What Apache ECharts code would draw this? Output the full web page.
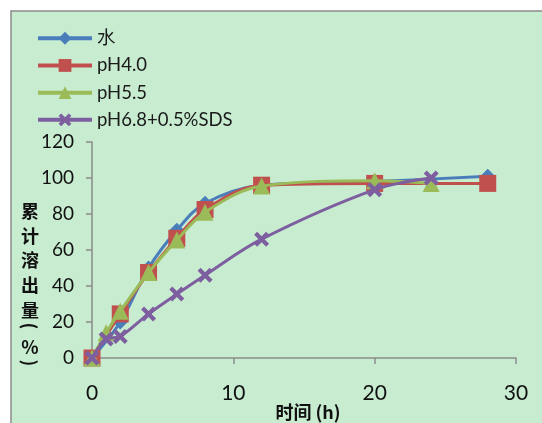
<!DOCTYPE html>
<html>
<head>
<meta charset="utf-8">
<script src="https://cdn.jsdelivr.net/npm/echarts@6/dist/echarts.min.js"></script>
<style>
html,body{margin:0;padding:0;background:#fff;}
#c{width:542px;height:423px;}
</style>
</head>
<body>
<div id="c"></div>
<script>
// Data
const seriesNames = ['水', 'pH4.0', 'pH5.5', 'pH6.8+0.5%SDS'];
const timeWater = [0, 2, 4, 6, 8, 12, 20, 28];
const water     = [0, 20, 50, 71, 86, 96, 98, 101];
const timePH40  = [0, 2, 4, 6, 8, 12, 20, 28];
const pH40      = [0, 24.5, 47.5, 66.5, 82.5, 96, 97, 97];
const timePH55  = [0, 1, 2, 4, 6, 8, 12, 20, 24];
const pH55      = [0, 14, 26, 47.5, 65.5, 81, 95.5, 98.5, 97];
const timePH68  = [0, 1, 2, 4, 6, 8, 12, 20, 24];
const pH68      = [0, 10.5, 12, 24.5, 35.5, 46, 66, 93.5, 100];
const xTicks = [0, 10, 20, 30];
const yTicks = [0, 20, 40, 60, 80, 100, 120];
const yTitleMain = ['累', '计', '溶', '出', '量'];
const xTitle = '时间 (h)';

function pairs(t, v) { return t.map((x, i) => [x, v[i]]); }

const colors = ['#4a7ebb', '#c0504d', '#9bbb59', '#7d5fa0'];
const xPath = 'path://M2,0 L5,3 L8,0 L10,2 L7,5 L10,8 L8,10 L5,7 L2,10 L0,8 L3,5 L0,2 Z';
const symbols = ['diamond', 'rect', 'triangle', xPath];
const symSizes = [15, 17, 17, 15];
const dataSets = [pairs(timeWater, water), pairs(timePH40, pH40), pairs(timePH55, pH55), pairs(timePH68, pH68)];

const chart = echarts.init(document.getElementById('c'), null, {renderer: 'canvas'});
const font = 'Lato, "Noto Sans", "Noto Sans CJK SC", sans-serif';
const cjk = '"Noto Sans CJK SC", sans-serif';
const titleStyle = {fontSize: 18, fontWeight: 'bold', fill: '#111', fontFamily: cjk, align: 'center', verticalAlign: 'middle'};
chart.setOption({
  animation: false,
  color: colors,
  textStyle: {fontFamily: font},
  graphic: [
    {type: 'rect', z: -10, shape: {x: 11, y: 11, width: 540, height: 420},
     style: {fill: '#c8ecd0', stroke: '#8a8a8a', lineWidth: 1.5}},
    {type: 'text', x: 30, y: 199, z: 10,
     style: Object.assign({}, titleStyle, {text: yTitleMain.join('\n'), lineHeight: 24.6, verticalAlign: 'top'})},
    {type: 'text', x: 30, y: 326, z: 10, rotation: -Math.PI / 2,
     style: Object.assign({}, titleStyle, {text: '('})},
    {type: 'text', x: 30, y: 347, z: 10,
     style: Object.assign({}, titleStyle, {text: '%'})},
    {type: 'text', x: 30, y: 363, z: 10, rotation: -Math.PI / 2,
     style: Object.assign({}, titleStyle, {text: ')'})},
    {type: 'text', x: 308, y: 412, z: 10,
     style: Object.assign({}, titleStyle, {text: xTitle})}
  ],
  legend: {
    orient: 'vertical', left: 36, top: 29, padding: 0,
    itemWidth: 54, itemHeight: 16, itemGap: 8.7,
    lineStyle: {width: 4},
    textStyle: {fontSize: 18.5, color: '#1a1a1a', fontFamily: font},
    data: seriesNames
  },
  grid: {left: 92, right: 26, top: 142, bottom: 65, containLabel: false, outerBoundsMode: 'none'},
  xAxis: {
    type: 'value', min: 0, max: 30, interval: 10,
    axisLine: {lineStyle: {color: '#8a8a8a', width: 1.5}},
    axisTick: {show: true, length: 6, lineStyle: {color: '#8a8a8a', width: 1.5}},
    splitLine: {show: false},
    axisLabel: {fontSize: 21, color: '#111', margin: 25, fontFamily: font,
      formatter: v => xTicks.includes(v) ? String(v) : ''}
  },
  yAxis: {
    type: 'value', min: 0, max: 120, interval: 20,
    axisLine: {show: true, lineStyle: {color: '#8a8a8a', width: 1.5}},
    axisTick: {show: true, length: 6, lineStyle: {color: '#8a8a8a', width: 1.5}},
    splitLine: {show: false},
    axisLabel: {fontSize: 19, color: '#111', margin: 18, fontFamily: font,
      formatter: v => yTicks.includes(v) ? String(v) : ''}
  },
  series: seriesNames.map((n, i) => ({
    name: n, type: 'line', data: dataSets[i],
    smooth: 0.35,
    symbol: symbols[i], symbolSize: symSizes[i],
    showAllSymbol: true,
    lineStyle: {width: 3, color: colors[i]},
    itemStyle: {color: colors[i]},
    z: 2 + i
  }))
});
</script>
</body>
</html>
